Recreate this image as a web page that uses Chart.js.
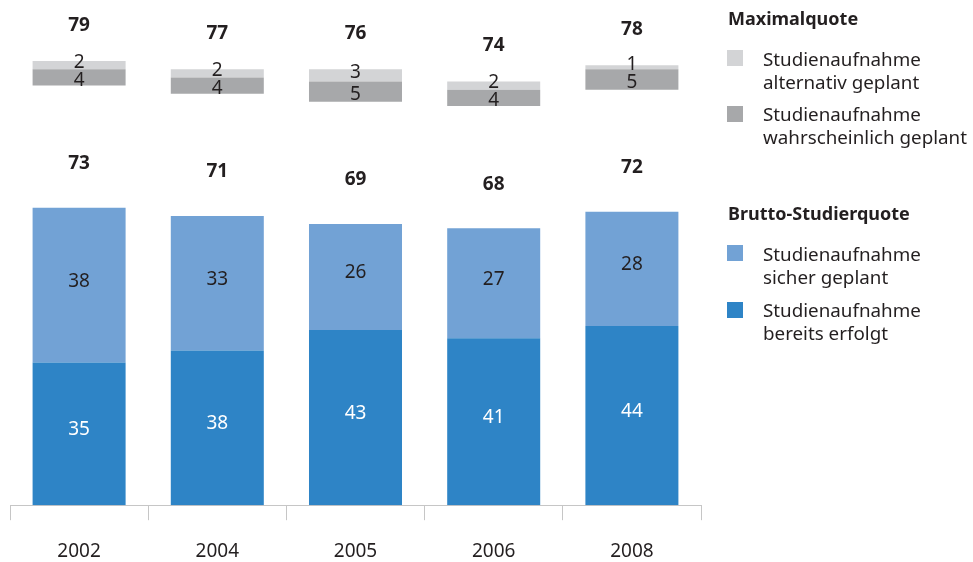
<!DOCTYPE html>
<html lang="de">
<head>
<meta charset="utf-8">
<title>Studierquote 2002–2008</title>
<script src="https://cdn.jsdelivr.net/npm/chart.js@4.4.1/dist/chart.umd.min.js"></script>
<style>
    html, body { margin: 0; padding: 0; background: #fff; overflow: hidden; }
    #wrap { position: relative; width: 973px; height: 562px; overflow: hidden; font-family: 'Noto Sans', sans-serif; color: #231f20; }
    #wrap canvas { position: absolute; left: 0; top: 0; }
    .legend-title { position: absolute; left: 728px; font-weight: bold; font-size: 18px; line-height: 23px; white-space: nowrap; }
    .legend-text { position: absolute; left: 763px; font-size: 18.8px; line-height: 23px; white-space: nowrap; }
    .legend-box { position: absolute; left: 727px; width: 16px; height: 16px; }
</style>
</head>
<body>
<div id="wrap">
    <!-- etwas höher als sichtbar: die Tick-Beschriftung belegt unten doppeltes Padding -->
    <canvas id="grafik" width="973" height="583"></canvas>
    <div id="legende"></div>
</div>
<script>
// Daten
const jahre = ['2002', '2004', '2005', '2006', '2008'];
const bereitsErfolgt = [35, 38, 43, 41, 44];
const sicherGeplant = [38, 33, 26, 27, 28];
const wahrscheinlichGeplant = [4, 4, 5, 4, 5];
const alternativGeplant = [2, 2, 3, 2, 1];
const bruttoStudierquote = [73, 71, 69, 68, 72];
const maximalquote = [79, 77, 76, 74, 78];

// Leerraum zwischen Brutto-Säule und Maximalquoten-Block (Prozentpunkte)
const abstand = 30;

const farben = {
    bereits: '#2e84c6',
    sicher: '#72a2d5',
    wahrscheinlich: '#a7a8aa',
    alternativ: '#d3d4d6',
    text: '#231f20'
};

// Zahlen in den Segmenten und Summen über den Säulen
const wertLabels = {
    id: 'wertLabels',
    afterDatasetsDraw(chart) {
        const ctx = chart.ctx;
        ctx.save();
        ctx.textAlign = 'center';
        ctx.textBaseline = 'middle';
        ctx.font = '19px "Noto Sans"';
        chart.data.datasets.forEach((ds, i) => {
            if (!ds.labelColor) return;
            ctx.fillStyle = ds.labelColor;
            chart.getDatasetMeta(i).data.forEach((bar, j) => {
                const mitte = (bar.y + bar.base) / 2 + ds.labelShift;
                ctx.fillText(ds.data[j], bar.x, mitte);
            });
        });

        ctx.font = 'bold 19px "Noto Sans"';
        ctx.fillStyle = farben.text;
        chart.getDatasetMeta(1).data.forEach((bar, j) => {
            ctx.fillText(bruttoStudierquote[j], bar.x, bar.y - 44);
        });
        chart.getDatasetMeta(4).data.forEach((bar, j) => {
            ctx.fillText(maximalquote[j], bar.x, bar.y - 36);
        });
        ctx.restore();
    }
};

const ctx = document.getElementById('grafik').getContext('2d');

const grafik = new Chart(ctx, {
    type: 'bar',
    data: {
        labels: jahre,
        datasets: [
            {
                label: 'Studienaufnahme bereits erfolgt',
                data: bereitsErfolgt,
                backgroundColor: farben.bereits,
                labelColor: '#ffffff',
                labelShift: -4
            },
            {
                label: 'Studienaufnahme sicher geplant',
                data: sicherGeplant,
                backgroundColor: farben.sicher,
                labelColor: farben.text,
                labelShift: -4
            },
            {
                label: '',
                data: jahre.map(() => abstand),
                backgroundColor: 'rgba(0,0,0,0)'
            },
            {
                label: 'Studienaufnahme wahrscheinlich geplant',
                data: wahrscheinlichGeplant,
                backgroundColor: farben.wahrscheinlich,
                labelColor: farben.text,
                labelShift: 3
            },
            {
                label: 'Studienaufnahme alternativ geplant',
                data: alternativGeplant,
                backgroundColor: farben.alternativ,
                labelColor: farben.text,
                labelShift: -3
            }
        ]
    },
    options: {
        responsive: false,
        animation: false,
        events: [],
        layout: { padding: { left: 10, right: 272, top: 0, bottom: 0 } },
        datasets: {
            bar: { categoryPercentage: 1, barPercentage: 0.673 }
        },
        plugins: {
            legend: { display: false },
            tooltip: { enabled: false }
        },
        scales: {
            x: {
                stacked: true,
                grid: {
                    offset: true,
                    drawOnChartArea: false,
                    tickLength: 15,
                    color: '#c6c6c6'
                },
                border: { color: '#c6c6c6' },
                ticks: {
                    font: { family: 'Noto Sans', size: 19 },
                    color: farben.text,
                    padding: 20
                }
            },
            y: {
                stacked: true,
                display: false,
                min: 0,
                max: 124
            }
        }
    },
    plugins: [wertLabels]
});

// Legende rechts
const legende = [
    { typ: 'titel', text: 'Maximalquote', top: 7 },
    { typ: 'eintrag', zeilen: ['Studienaufnahme', 'alternativ geplant'], farbe: farben.alternativ, top: 48, box: 50 },
    { typ: 'eintrag', zeilen: ['Studienaufnahme', 'wahrscheinlich geplant'], farbe: farben.wahrscheinlich, top: 103, box: 106 },
    { typ: 'titel', text: 'Brutto-Studierquote', top: 202 },
    { typ: 'eintrag', zeilen: ['Studienaufnahme', 'sicher geplant'], farbe: farben.sicher, top: 243, box: 245 },
    { typ: 'eintrag', zeilen: ['Studienaufnahme', 'bereits erfolgt'], farbe: farben.bereits, top: 299, box: 302 }
];

const legendeEl = document.getElementById('legende');
legende.forEach(e => {
    if (e.typ === 'titel') {
        const t = document.createElement('div');
        t.className = 'legend-title';
        t.style.top = e.top + 'px';
        t.textContent = e.text;
        legendeEl.appendChild(t);
    } else {
        const b = document.createElement('div');
        b.className = 'legend-box';
        b.style.top = e.box + 'px';
        b.style.background = e.farbe;
        legendeEl.appendChild(b);
        const t = document.createElement('div');
        t.className = 'legend-text';
        t.style.top = e.top + 'px';
        t.innerHTML = e.zeilen.join('<br>');
        legendeEl.appendChild(t);
    }
});
</script>
</body>
</html>
